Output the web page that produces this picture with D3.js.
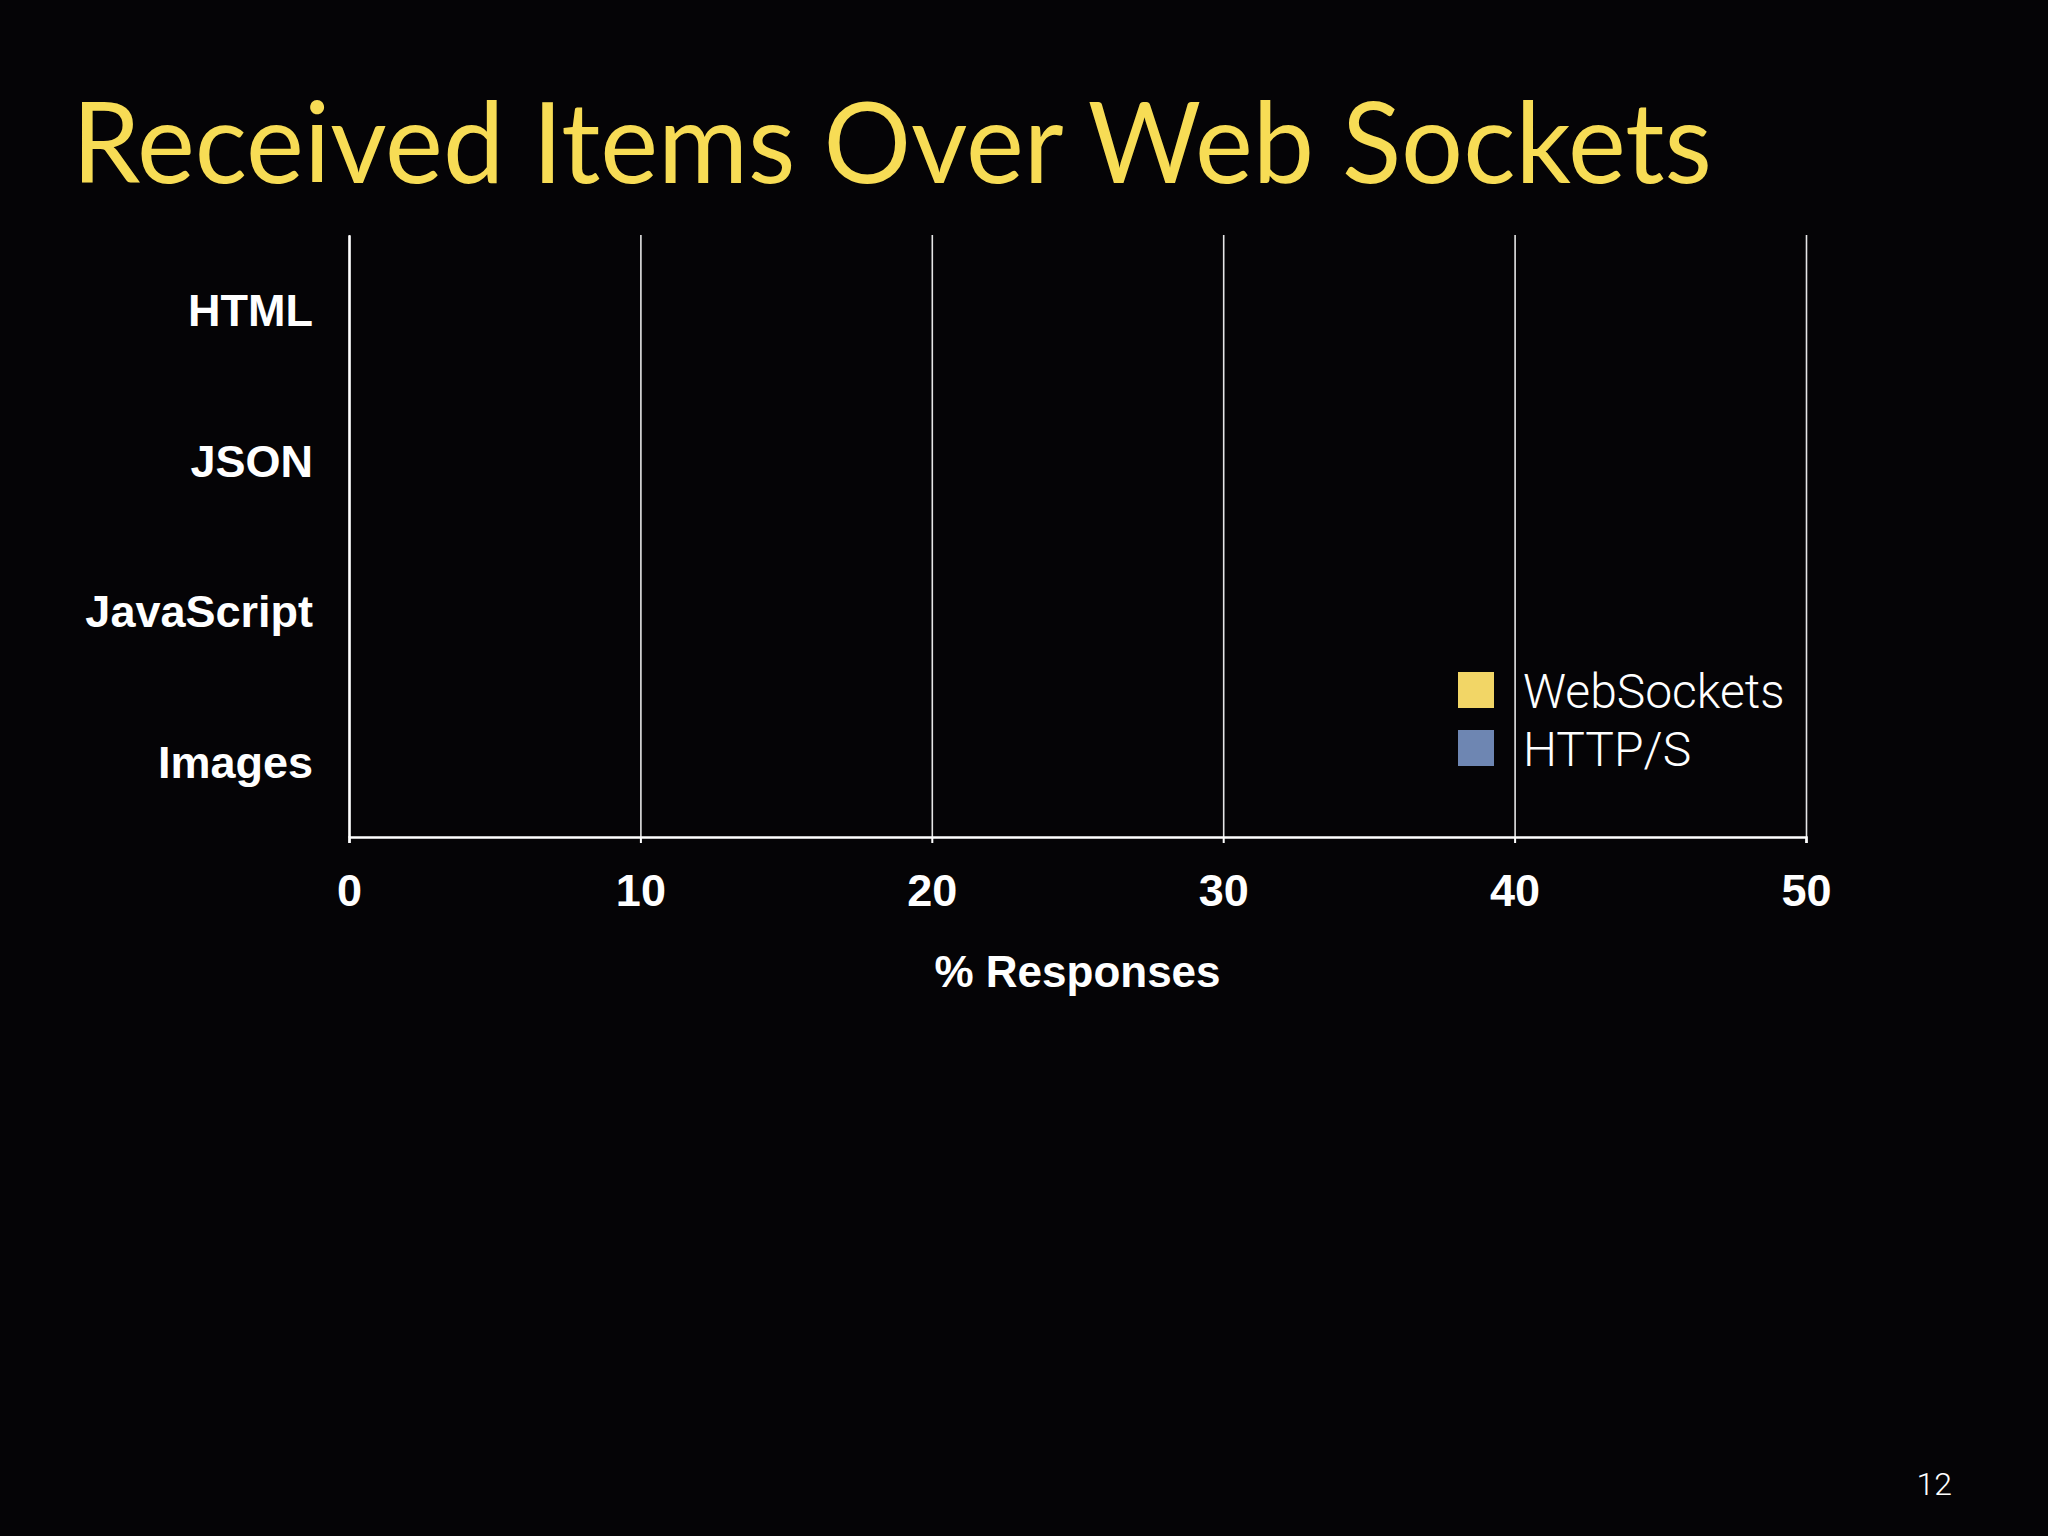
<!DOCTYPE html>
<html>
<head>
<meta charset="utf-8">
<script src="https://cdn.jsdelivr.net/npm/d3@7"></script>
<style>
  html, body { margin: 0; padding: 0; background: #050406; }
  svg { display: block; }
</style>
</head>
<body>
<svg id="chart" width="2048" height="1536"></svg>
<script>
// ---- data ----
const titleText = "Received Items Over Web Sockets";
const categories = ["HTML", "JSON", "JavaScript", "Images"];
const seriesNames = ["WebSockets", "HTTP/S"];
const webSocketsValues = [0, 0, 0, 0];
const httpValues = [0, 0, 0, 0];
const xTicks = [0, 10, 20, 30, 40, 50];
const xAxisTitle = "% Responses";
const pageNumber = "12";
const seriesColors = ["#F2D666", "#6E86B2"];

// ---- layout ----
const W = 2048, H = 1536;
const plot = { left: 349, right: 1806, top: 235, bottom: 837 };
const svg = d3.select("#chart");
svg.append("rect").attr("width", W).attr("height", H).attr("fill", "#050406");

// Title
const title = svg.append("text")
  .attr("x", 72).attr("y", 183)
  .attr("fill", "#F7DC55")
  .style("font-family", "Lato, 'Open Sans', sans-serif")
  .style("font-size", "112px")
  .style("font-weight", 400)
  .attr("textLength", 1640)
  .attr("lengthAdjust", "spacingAndGlyphs")
  .text(titleText);

const x = d3.scaleLinear().domain([0, 50]).range([plot.left, plot.right]);
const y = d3.scaleBand().domain(categories).range([plot.top, plot.bottom]).paddingInner(0.2).paddingOuter(0.1);
const ySub = d3.scaleBand().domain(seriesNames).range([0, y.bandwidth()]);

// Gridlines
const grid = svg.append("g").attr("transform", `translate(0,${plot.bottom})`)
  .call(d3.axisBottom(x).tickValues(xTicks).tickSize(-(plot.bottom - plot.top)).tickFormat(""));
grid.select(".domain").remove();
grid.selectAll(".tick line").attr("stroke", "#E6E6E6").attr("stroke-width", 1.6);

// Bars (values read as zero – no visible bars)
const rows = categories.map((c, i) => ({ cat: c, vals: [webSocketsValues[i], httpValues[i]] }));
const barG = svg.append("g");
rows.forEach(r => {
  barG.selectAll(null).data(r.vals).join("rect")
    .attr("x", x(0))
    .attr("y", (d, j) => y(r.cat) + ySub(seriesNames[j]))
    .attr("height", ySub.bandwidth())
    .attr("width", d => x(d) - x(0))
    .attr("fill", (d, j) => seriesColors[j]);
});

// X axis
const xAxis = svg.append("g").attr("transform", `translate(0,${plot.bottom})`)
  .call(d3.axisBottom(x).tickValues(xTicks).tickSize(6).tickPadding(31).tickFormat(d3.format("d")));
xAxis.select(".domain").attr("stroke", "#FFFFFF").attr("stroke-width", 2.5);
xAxis.selectAll(".tick line").attr("stroke", "#FFFFFF").attr("stroke-width", 2);
xAxis.selectAll(".tick text")
  .attr("fill", "#FFFFFF")
  .style("font-family", "'Liberation Sans', Arial, sans-serif")
  .style("font-size", "45px")
  .style("font-weight", "bold");

// Y axis
const yAxis = svg.append("g").attr("transform", `translate(${plot.left},0)`)
  .call(d3.axisLeft(y).tickSize(0).tickPadding(36));
yAxis.select(".domain").attr("stroke", "#FFFFFF").attr("stroke-width", 2.5);
yAxis.selectAll(".tick text")
  .attr("fill", "#FFFFFF")
  .attr("dy", "0.36em")
  .style("font-family", "'Liberation Sans', Arial, sans-serif")
  .style("font-size", "45px")
  .style("font-weight", "bold");

// X axis title
svg.append("text")
  .attr("x", (plot.left + plot.right) / 2).attr("y", 987)
  .attr("text-anchor", "middle")
  .attr("fill", "#FFFFFF")
  .style("font-family", "'Liberation Sans', Arial, sans-serif")
  .style("font-size", "44px")
  .style("font-weight", "bold")
  .text(xAxisTitle);

// Legend
const legend = svg.append("g").attr("transform", "translate(1458,672)");
const li = legend.selectAll("g").data(seriesNames).join("g")
  .attr("transform", (d, i) => `translate(0,${i * 58})`);
li.append("rect").attr("width", 36).attr("height", 36).attr("fill", (d, i) => seriesColors[i]);
li.append("text")
  .attr("x", 65).attr("y", 36)
  .attr("fill", "#FFFFFF")
  .style("font-family", "Roboto, 'Liberation Sans', sans-serif")
  .style("font-size", "48px")
  .style("font-weight", 300)
  .text(d => d);

// Page number
svg.append("text")
  .attr("x", 1952).attr("y", 1495)
  .attr("text-anchor", "end")
  .attr("fill", "#FFFFFF")
  .style("font-family", "Roboto, 'Liberation Sans', sans-serif")
  .style("font-size", "32px")
  .style("font-weight", 300)
  .text(pageNumber);
</script>
</body>
</html>
